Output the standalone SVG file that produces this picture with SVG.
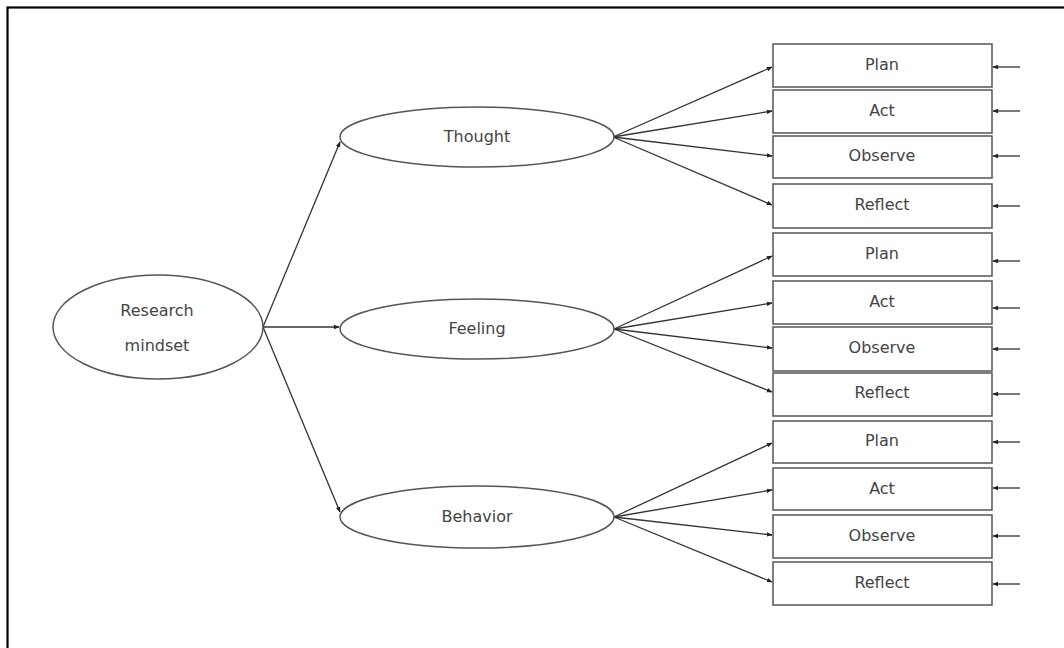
<svg xmlns="http://www.w3.org/2000/svg" width="1064" height="648" viewBox="0 0 1064 648">
  <style>
    .bg { fill: #ffffff; }
    .frame { fill: none; stroke: #000000; stroke-width: 2.2; }
    .node { fill: #ffffff; stroke: #555555; stroke-width: 1.5; }
    .label { font-family: "DejaVu Sans", "Liberation Sans", sans-serif; font-size: 16px; fill: #444444; text-anchor: middle; dominant-baseline: central; }
    .link { fill: none; stroke: #333333; stroke-width: 1.3; marker-end: url(#head); }
  </style>
  <defs>
    <marker id="head" viewBox="0 0 8 8" refX="7" refY="4" markerWidth="6" markerHeight="6" markerUnits="userSpaceOnUse" orient="auto">
      <path d="M0,1 L8,4 L0,7 Z" fill="#222222"/>
    </marker>
  </defs>

  <rect class="bg" x="0" y="0" width="1064" height="648"/>
  <!-- outer frame, open to the right and bottom edges -->
  <rect class="frame" x="7.5" y="7.5" width="1070" height="660"/>

  <!-- connectors -->
  <g id="connectors">
    <!-- root to branches -->
    <line class="link" x1="263" y1="327" x2="340" y2="142"/>
    <line class="link" x1="263" y1="327" x2="339" y2="327"/>
    <line class="link" x1="263" y1="327" x2="340" y2="512"/>
    <!-- Thought fan -->
    <line class="link" x1="613" y1="137" x2="772" y2="67"/>
    <line class="link" x1="613" y1="137" x2="772" y2="111"/>
    <line class="link" x1="613" y1="137" x2="772" y2="156"/>
    <line class="link" x1="613" y1="137" x2="772" y2="205"/>
    <!-- Feeling fan -->
    <line class="link" x1="614" y1="329" x2="772" y2="256"/>
    <line class="link" x1="614" y1="329" x2="772" y2="303"/>
    <line class="link" x1="614" y1="329" x2="772" y2="348"/>
    <line class="link" x1="614" y1="329" x2="772" y2="392"/>
    <!-- Behavior fan -->
    <line class="link" x1="614" y1="517" x2="772" y2="443"/>
    <line class="link" x1="614" y1="517" x2="772" y2="490"/>
    <line class="link" x1="614" y1="517" x2="772" y2="535"/>
    <line class="link" x1="614" y1="517" x2="772" y2="582"/>
    <!-- incoming arrows on the right -->
    <line class="link" x1="1020" y1="67" x2="993" y2="67"/>
    <line class="link" x1="1020" y1="111" x2="993" y2="111"/>
    <line class="link" x1="1020" y1="156" x2="993" y2="156"/>
    <line class="link" x1="1020" y1="206" x2="993" y2="206"/>
    <line class="link" x1="1020" y1="261" x2="993" y2="261"/>
    <line class="link" x1="1020" y1="308" x2="993" y2="308"/>
    <line class="link" x1="1020" y1="349" x2="993" y2="349"/>
    <line class="link" x1="1020" y1="394" x2="993" y2="394"/>
    <line class="link" x1="1020" y1="442" x2="993" y2="442"/>
    <line class="link" x1="1020" y1="488" x2="993" y2="488"/>
    <line class="link" x1="1020" y1="536" x2="993" y2="536"/>
    <line class="link" x1="1020" y1="584" x2="993" y2="584"/>
  </g>

  <!-- ellipses -->
  <g id="research-mindset">
    <ellipse class="node" cx="158" cy="327" rx="105" ry="52"/>
    <text class="label" x="157" y="310">Research</text>
    <text class="label" x="157" y="345">mindset</text>
  </g>
  <g id="thought">
    <ellipse class="node" cx="477" cy="137" rx="137" ry="30"/>
    <text class="label" x="477" y="136">Thought</text>
  </g>
  <g id="feeling">
    <ellipse class="node" cx="477" cy="329" rx="137" ry="30"/>
    <text class="label" x="477" y="328">Feeling</text>
  </g>
  <g id="behavior">
    <ellipse class="node" cx="477" cy="517" rx="137" ry="31"/>
    <text class="label" x="477" y="516">Behavior</text>
  </g>

  <!-- Thought boxes -->
  <g id="thought-plan">
    <rect class="node" x="773" y="44" width="219" height="43"/>
    <text class="label" x="882" y="64">Plan</text>
  </g>
  <g id="thought-act">
    <rect class="node" x="773" y="90" width="219" height="43"/>
    <text class="label" x="882" y="110">Act</text>
  </g>
  <g id="thought-observe">
    <rect class="node" x="773" y="136" width="219" height="42"/>
    <text class="label" x="882" y="155">Observe</text>
  </g>
  <g id="thought-reflect">
    <rect class="node" x="773" y="184" width="219" height="44"/>
    <text class="label" x="882" y="204">Reflect</text>
  </g>

  <!-- Feeling boxes -->
  <g id="feeling-plan">
    <rect class="node" x="773" y="233" width="219" height="43"/>
    <text class="label" x="882" y="253">Plan</text>
  </g>
  <g id="feeling-act">
    <rect class="node" x="773" y="281" width="219" height="43"/>
    <text class="label" x="882" y="301">Act</text>
  </g>
  <g id="feeling-observe">
    <rect class="node" x="773" y="327" width="219" height="44"/>
    <text class="label" x="882" y="347">Observe</text>
  </g>
  <g id="feeling-reflect">
    <rect class="node" x="773" y="373" width="219" height="43"/>
    <text class="label" x="882" y="392">Reflect</text>
  </g>

  <!-- Behavior boxes -->
  <g id="behavior-plan">
    <rect class="node" x="773" y="421" width="219" height="42"/>
    <text class="label" x="882" y="440">Plan</text>
  </g>
  <g id="behavior-act">
    <rect class="node" x="773" y="468" width="219" height="42"/>
    <text class="label" x="882" y="488">Act</text>
  </g>
  <g id="behavior-observe">
    <rect class="node" x="773" y="515" width="219" height="43"/>
    <text class="label" x="882" y="535">Observe</text>
  </g>
  <g id="behavior-reflect">
    <rect class="node" x="773" y="562" width="219" height="43"/>
    <text class="label" x="882" y="582">Reflect</text>
  </g>
</svg>
